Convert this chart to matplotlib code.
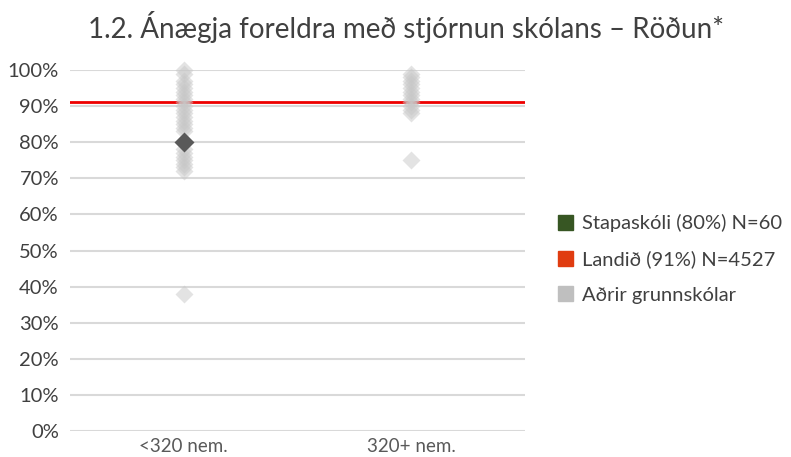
"""Strip plot: parent satisfaction with school management, ranking by school size."""

import matplotlib.pyplot as plt
from matplotlib.patches import Patch

plt.rcParams["font.family"] = ["Lato", "DejaVu Sans"]

categories = ["<320 nem.", "320+ nem."]
other_small = [100, 99, 97, 96, 95, 94, 93, 92, 91, 90, 89, 88, 87, 86, 85, 84, 83,
               78, 77, 76, 75, 74, 73, 72, 38]
other_large = [99, 98, 97, 96, 95, 94, 93, 92, 91, 90, 89, 88, 75]
school_category = 0
school_value = 80
national_value = 91

legend_labels = ["Stapaskóli (80%) N=60", "Landið (91%) N=4527", "Aðrir grunnskólar"]
yticks = list(range(0, 101, 10))

fig = plt.figure(figsize=(7.91, 4.57), dpi=100)
ax = fig.add_axes([70 / 791, 1 - 431 / 457, 455 / 791, 361 / 457])

for i, vals in enumerate([other_small, other_large]):
    ax.plot([i] * len(vals), [v / 100 for v in vals], ls="none", marker="D",
            ms=9, color="#c8c8c8", alpha=0.5, mec="none", clip_on=False, zorder=3)

ax.plot([school_category], [school_value / 100], ls="none", marker="D", ms=10.5,
        color="#595959", mec="none", clip_on=False, zorder=4)
ax.axhline(national_value / 100, color="#ee0000", lw=2, zorder=2)

ax.set_xlim(-0.5, 1.5)
ax.set_ylim(0, 1)
ax.set_xticks([0, 1])
ax.set_xticklabels(categories, fontsize=13.5, color="#595959")
ax.set_yticks([v / 100 for v in yticks])
ax.set_yticklabels([f"{v}%" for v in yticks], fontsize=14.5, color="#404040")
ax.tick_params(length=0, pad=8)
ax.tick_params(axis="x", pad=5)
ax.grid(axis="y", color="#d9d9d9", lw=1.5, zorder=0)
ax.set_axisbelow(True)
for s in ax.spines.values():
    s.set_visible(False)

handles = [Patch(color="#375623"), Patch(color="#e03c10"), Patch(color="#bfbfbf")]
fig.legend(handles, legend_labels, loc="center left", bbox_to_anchor=(558 / 791, 1 - 259 / 457),
           frameon=False, fontsize=14.5, handlelength=0.75, handleheight=0.75,
           handletextpad=0.45, labelspacing=0.9, labelcolor="#404040",
           borderaxespad=0, borderpad=0)

fig.text(406 / 791, 1 - 27 / 457, "1.2. Ánægja foreldra með stjórnun skólans – Röðun*",
         ha="center", va="center", fontsize=20, color="#404040")

fig.savefig("out.png", dpi=100)
